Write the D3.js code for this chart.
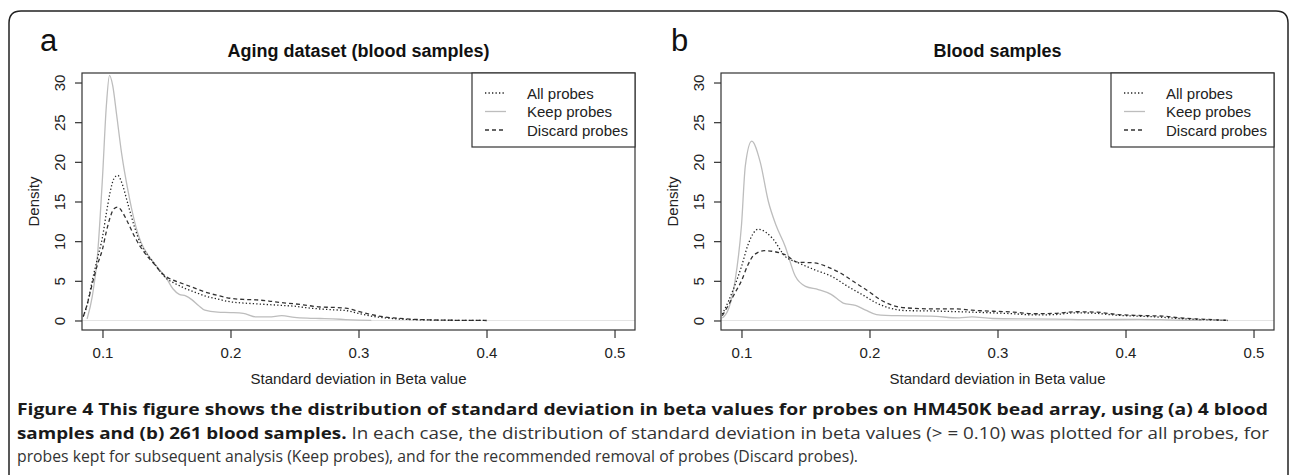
<!DOCTYPE html>
<html><head><meta charset="utf-8">
<script src="https://cdn.jsdelivr.net/npm/d3@7"></script>
<style>
html,body{margin:0;padding:0;background:#fff;}
svg{display:block;}
</style></head>
<body>
<svg id="chart" width="1290" height="475"></svg>
<script>
// ---------- data ----------
const panelLetters = ["a", "b"];
const panelTitles = ["Aging dataset (blood samples)", "Blood samples"];
const seriesNames = ["All probes", "Keep probes", "Discard probes"];
const xTicks = [0.1, 0.2, 0.3, 0.4, 0.5];
const yTicks = [0, 5, 10, 15, 20, 25, 30];
const xLabel = "Standard deviation in Beta value";
const yLabel = "Density";

// Panel a
const aAllX  = [0.085,0.088,0.092,0.096,0.1,0.103,0.106,0.109,0.112,0.115,0.12,0.125,0.13,0.135,0.14,0.145,0.15,0.155,0.16,0.165,0.17,0.175,0.18,0.19,0.2,0.21,0.22,0.23,0.24,0.25,0.26,0.27,0.28,0.29,0.3,0.31,0.32,0.33,0.34,0.35,0.36,0.38,0.4];
const aAllY  = [0.5,2.0,5.0,7.8,10.5,13.5,16.2,17.9,18.3,17.4,14.6,11.8,9.6,8.3,7.3,6.2,5.3,4.8,4.4,4.0,3.7,3.4,3.1,2.7,2.35,2.2,2.1,2.0,1.9,1.8,1.6,1.45,1.35,1.25,0.9,0.55,0.35,0.2,0.12,0.08,0.05,0.02,0.0];
const aKeepX = [0.088,0.092,0.096,0.1,0.103,0.1055,0.108,0.111,0.115,0.12,0.125,0.13,0.135,0.14,0.145,0.15,0.155,0.16,0.165,0.17,0.175,0.18,0.19,0.2,0.21,0.22,0.23,0.24,0.25,0.26,0.27,0.28,0.29,0.3,0.31];
const aKeepY = [0.2,3.0,8.0,18.0,27.0,30.9,29.6,26.0,21.0,16.3,12.5,9.9,8.4,7.3,6.3,5.3,4.0,3.3,3.1,2.6,1.9,1.3,1.05,1.0,0.9,0.45,0.45,0.6,0.4,0.3,0.25,0.2,0.12,0.05,0.0];
const aDiscX = [0.085,0.088,0.092,0.096,0.1,0.103,0.106,0.109,0.112,0.115,0.12,0.125,0.13,0.135,0.14,0.145,0.15,0.155,0.16,0.165,0.17,0.175,0.18,0.19,0.2,0.21,0.22,0.23,0.24,0.25,0.26,0.27,0.28,0.29,0.3,0.31,0.32,0.33,0.34,0.35,0.36,0.38,0.4];
const aDiscY = [0.5,2.0,4.6,7.0,9.0,11.2,13.0,14.1,14.3,13.8,12.3,10.6,9.2,8.1,7.2,6.2,5.5,5.1,4.8,4.5,4.2,3.9,3.6,3.15,2.8,2.65,2.6,2.45,2.25,2.1,1.9,1.7,1.65,1.55,1.15,0.75,0.45,0.3,0.17,0.1,0.06,0.02,0.0];

// Panel b
const bAllX  = [0.085,0.09,0.095,0.1,0.105,0.113,0.124,0.134,0.144,0.157,0.17,0.183,0.196,0.2055,0.215,0.228,0.248,0.28,0.3125,0.329,0.345,0.361,0.377,0.394,0.41,0.429,0.442,0.4585,0.4715,0.48];
const bAllY  = [0.8,2.5,4.5,6.8,9.5,11.5,10.4,8.1,7.3,6.4,5.6,4.3,3.1,2.2,1.6,1.25,1.2,1.05,0.85,0.7,0.75,0.97,0.9,0.65,0.55,0.4,0.25,0.12,0.05,0.0];
const bKeepX = [0.085,0.09,0.095,0.1,0.103,0.108,0.1146,0.121,0.127,0.134,0.142,0.15,0.16,0.17,0.1795,0.189,0.197,0.2055,0.222,0.248,0.27,0.28,0.296,0.345,0.377,0.41,0.44,0.46];
const bKeepY = [0.3,1.5,5.0,12.0,19.5,22.6,20.0,15.0,12.0,9.4,5.6,4.3,3.9,3.3,2.2,1.9,1.3,0.75,0.6,0.55,0.33,0.45,0.25,0.17,0.1,0.15,0.05,0.02];
const bDiscX = [0.085,0.09,0.095,0.1,0.105,0.11,0.118,0.134,0.144,0.157,0.1665,0.176,0.189,0.199,0.2087,0.218,0.228,0.2476,0.267,0.28,0.3125,0.329,0.345,0.361,0.377,0.394,0.41,0.429,0.442,0.4585,0.48];
const bDiscY = [0.6,2.0,3.5,5.0,7.0,8.3,8.8,8.3,7.35,7.27,6.8,6.1,4.75,3.7,2.6,1.9,1.6,1.47,1.47,1.3,1.05,0.85,0.9,1.1,1.05,0.75,0.63,0.55,0.33,0.17,0.02];

const captionLine1 = "Figure 4 This figure shows the distribution of standard deviation in beta values for probes on HM450K bead array, using (a) 4 blood";
const captionLine2Bold = "samples and (b) 261 blood samples.";
const captionLine2 = " In each case, the distribution of standard deviation in beta values (> = 0.10) was plotted for all probes, for";
const captionLine3 = "probes kept for subsequent analysis (Keep probes), and for the recommended removal of probes (Discard probes).";

// ---------- drawing ----------
const svg = d3.select("#chart");
const FONT = "'Liberation Sans', Arial, Helvetica, sans-serif";
const styles = [
  {stroke: "#222", dash: "1.3,2.2", width: 1.3},   // All
  {stroke: "#bdbdbd", dash: null, width: 1.3},    // Keep
  {stroke: "#333", dash: "4,3", width: 1.3}       // Discard
];
const panels = [
  {series: [[aAllX, aAllY], [aKeepX, aKeepY], [aDiscX, aDiscY]]},
  {series: [[bAllX, bAllY], [bKeepX, bKeepY], [bDiscX, bDiscY]]}
];

// outer frame
svg.append("path")
  .attr("d", "M9,480 V23 Q9,11 21,11 H1276 Q1288,11 1288,23 V480")
  .attr("fill", "none").attr("stroke", "#222").attr("stroke-width", 1.5);

const plotL = 82, plotR = 635, plotT = 73, plotB = 330, panelDX = 639;

panels.forEach((p, i) => {
  const g = svg.append("g").attr("transform", `translate(${i * panelDX},0)`);
  const x = d3.scaleLinear().domain([0.084, 0.516]).range([plotL, plotR]);
  const y = d3.scaleLinear().domain([-1.2, 31.2]).range([plotB, plotT]);

  // zero line
  g.append("line").attr("x1", plotL).attr("x2", plotR)
    .attr("y1", y(0)).attr("y2", y(0))
    .attr("stroke", "#e4e4e4").attr("stroke-width", 1);

  const line = d3.line().x(d => x(d[0])).y(d => y(d[1])).curve(d3.curveMonotoneX);
  [1, 2, 0].forEach(k => {
    const [xs, ys] = p.series[k];
    const pts = xs.map((v, j) => [v, ys[j]]);
    g.append("path").datum(pts).attr("d", line)
      .attr("fill", "none").attr("stroke", styles[k].stroke)
      .attr("stroke-width", styles[k].width)
      .attr("stroke-dasharray", styles[k].dash);
  });

  // box
  g.append("rect").attr("x", plotL).attr("y", plotT)
    .attr("width", plotR - plotL).attr("height", plotB - plotT)
    .attr("fill", "none").attr("stroke", "#333").attr("stroke-width", 1.2);

  // x axis
  const xa = g.append("g").attr("transform", `translate(0,${plotB})`)
    .call(d3.axisBottom(x).tickValues(xTicks).tickSize(8).tickPadding(9).tickFormat(d3.format(".1f")));
  xa.select(".domain").remove();
  xa.selectAll("line").attr("stroke", "#333").attr("stroke-width", 1.2);
  xa.selectAll("text").attr("font-family", FONT).attr("font-size", 15).attr("fill", "#222");

  // y axis
  const ya = g.append("g").attr("transform", `translate(${plotL},0)`)
    .call(d3.axisLeft(y).tickValues(yTicks).tickSize(7));
  ya.select(".domain").remove();
  ya.selectAll("line").attr("stroke", "#333").attr("stroke-width", 1.2);
  ya.selectAll("text").attr("x", null).attr("dy", null)
    .attr("transform", "translate(-17,0) rotate(-90)")
    .attr("text-anchor", "middle")
    .attr("font-family", FONT).attr("font-size", 15).attr("fill", "#222");

  // labels
  g.append("text").attr("x", (plotL + plotR) / 2).attr("y", 384)
    .attr("text-anchor", "middle").attr("font-family", FONT).attr("font-size", 15)
    .attr("fill", "#222").text(xLabel);
  g.append("text").attr("transform", `translate(39,${(plotT + plotB) / 2}) rotate(-90)`)
    .attr("text-anchor", "middle").attr("font-family", FONT).attr("font-size", 15)
    .attr("fill", "#222").text(yLabel);
  g.append("text").attr("x", (plotL + plotR) / 2).attr("y", 57)
    .attr("text-anchor", "middle").attr("font-family", FONT).attr("font-size", 18)
    .attr("font-weight", "bold").attr("fill", "#111").text(panelTitles[i]);
  g.append("text").attr("x", i === 0 ? 40 : 32).attr("y", 51)
    .attr("font-family", FONT).attr("font-size", 31).attr("fill", "#111").text(panelLetters[i]);

  // legend
  const lgL = 472, lgT = 73, lgR = plotR, lgB = 147;
  const lg = g.append("g");
  lg.append("rect").attr("x", lgL).attr("y", lgT).attr("width", lgR - lgL).attr("height", lgB - lgT)
    .attr("fill", "#fff").attr("stroke", "#333").attr("stroke-width", 1.2);
  seriesNames.forEach((name, k) => {
    const yy = 93 + k * 18.5;
    lg.append("line").attr("x1", lgL + 13).attr("x2", lgL + 34).attr("y1", yy).attr("y2", yy)
      .attr("stroke", styles[k].stroke).attr("stroke-width", styles[k].width)
      .attr("stroke-dasharray", styles[k].dash);
    lg.append("text").attr("x", lgL + 55).attr("y", yy + 5.5)
      .attr("font-family", FONT).attr("font-size", 15).attr("fill", "#222").text(name);
  });
});

// caption
const CFONT = "'Open Sans', 'Noto Sans', sans-serif";
const capX = 17;
svg.append("text").attr("x", capX).attr("y", 415)
  .attr("font-family", CFONT).attr("font-size", 16).attr("font-weight", "bold").attr("fill", "#1a1a1a")
  .attr("textLength", 1251).attr("lengthAdjust", "spacingAndGlyphs").text(captionLine1);
const t2 = svg.append("text").attr("x", capX).attr("y", 439)
  .attr("font-family", CFONT).attr("font-size", 16).attr("fill", "#333")
  .attr("textLength", 1252).attr("lengthAdjust", "spacingAndGlyphs");
t2.append("tspan").attr("font-weight", "bold").attr("fill", "#1a1a1a").text(captionLine2Bold);
t2.append("tspan").text(captionLine2);
svg.append("text").attr("x", capX).attr("y", 462)
  .attr("font-family", CFONT).attr("font-size", 16).attr("fill", "#333")
  .attr("textLength", 841).attr("lengthAdjust", "spacingAndGlyphs").text(captionLine3);
</script>
</body></html>
